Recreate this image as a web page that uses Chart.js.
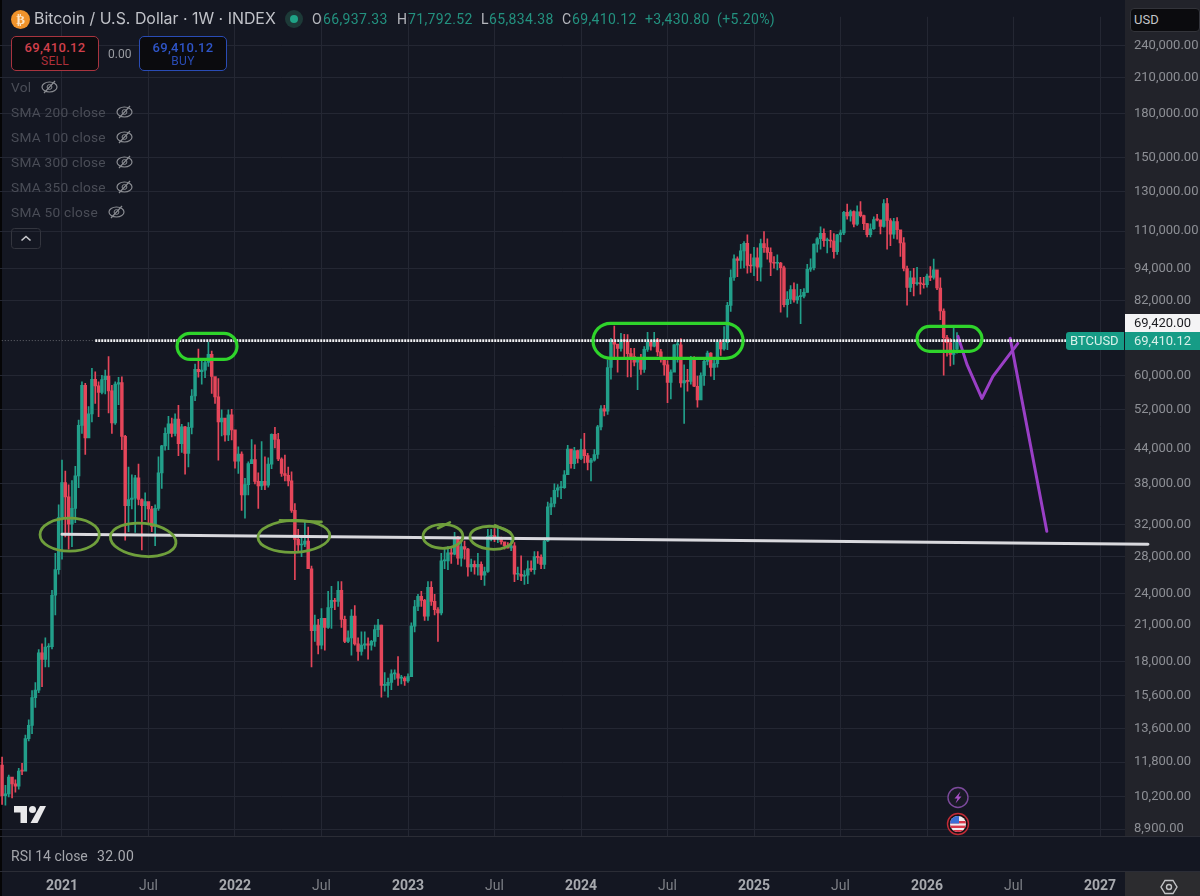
<!DOCTYPE html>
<html>
<head>
<meta charset="utf-8">
<title>Bitcoin / U.S. Dollar</title>
<script src="https://cdn.jsdelivr.net/npm/chart.js@4"></script>
<style>
  html, body { margin: 0; padding: 0; background: #141722; }
  #wrap { position: relative; width: 1200px; height: 896px; overflow: hidden; font-family: Inter, sans-serif; }
  #wrap canvas { position: absolute; left: 0; top: 0; filter: blur(.35px); }
  .t { position: absolute; white-space: nowrap; line-height: 1; }
  .ohlc { font-family: Roboto, sans-serif; font-size: 14px; top: 12px; color: #23917f; letter-spacing: .35px; }
  .ohlc.k { color: #b6b8be; }
  .box { position: absolute; top: 36px; width: 86px; height: 33px; border-radius: 5px; background: #0b0b0e; border: 1px solid; text-align: center; font-family: Roboto, sans-serif; }
  .box b { display: block; font-size: 13px; font-weight: 500; margin-top: 3px; letter-spacing: .3px; }
  .box span { display: block; font-size: 12px; margin-top: 0; line-height: 13px; letter-spacing: .3px; }
  .ind { font-family: Roboto, sans-serif; font-size: 13.7px; color: #4a4d57; left: 11px; letter-spacing: .25px; }
  .eye { position: absolute; width: 17px; height: 14px; }
</style>
</head>
<body>
<div id="wrap">
  <canvas id="priceChart" width="1200" height="896"></canvas>

  <svg style="position:absolute;left:11px;top:10px" width="19" height="19"><circle cx="9.5" cy="9.5" r="9.5" fill="#f0932b"/><text x="9.5" y="14" text-anchor="middle" font-size="13" font-weight="700" fill="#fbe3c4" font-family="DejaVu Sans">₿</text></svg>
  <div class="t" style="left:34px;top:11px;font-size:15.9px;color:#c0c2c8">Bitcoin / U.S. Dollar · 1W · INDEX</div>
  <svg style="position:absolute;left:285px;top:10px" width="18" height="18"><circle cx="9" cy="9" r="9" fill="#1d3a38"/><circle cx="9" cy="9" r="4" fill="#1fa386"/></svg>
  <div class="t ohlc k" style="left:312px">O</div><div class="t ohlc" style="left:323px">66,937.33</div>
  <div class="t ohlc k" style="left:397px">H</div><div class="t ohlc" style="left:408px">71,792.52</div>
  <div class="t ohlc k" style="left:481px">L</div><div class="t ohlc" style="left:489px">65,834.38</div>
  <div class="t ohlc k" style="left:562px">C</div><div class="t ohlc" style="left:572px">69,410.12</div>
  <div class="t ohlc" style="left:645px">+3,430.80</div>
  <div class="t ohlc" style="left:717px">(+5.20%)</div>

  <div class="box" style="left:11px;border-color:#a8343f"><b style="color:#d0404c">69,410.12</b><span style="color:#ad303b">SELL</span></div>
  <div class="t" style="left:108px;top:48px;font-size:12px;color:#9a9ca2;font-family:Roboto,sans-serif">0.00</div>
  <div class="box" style="left:139px;border-color:#2a4cb5"><b style="color:#2f55c8">69,410.12</b><span style="color:#2a4cb5">BUY</span></div>

  <div class="t ind" style="top:81px">Vol</div>
  <div class="t ind" style="top:106px">SMA 200 close</div>
  <div class="t ind" style="top:131px">SMA 100 close</div>
  <div class="t ind" style="top:156px">SMA 300 close</div>
  <div class="t ind" style="top:181px">SMA 350 close</div>
  <div class="t ind" style="top:206px">SMA 50 close</div>
  <svg class="eye" style="left:41px;top:80px" viewBox="0 0 17 14"><ellipse cx="8.5" cy="7" rx="7.5" ry="5" fill="none" stroke="#8a8c92" stroke-width="1.2"/><circle cx="8.5" cy="7" r="2.4" fill="none" stroke="#8a8c92"/><path d="M3 13L14 1" stroke="#8a8c92" stroke-width="1.2"/></svg>
  <svg class="eye" style="left:116px;top:105px" viewBox="0 0 17 14"><ellipse cx="8.5" cy="7" rx="7.5" ry="5" fill="none" stroke="#8a8c92" stroke-width="1.2"/><circle cx="8.5" cy="7" r="2.4" fill="none" stroke="#8a8c92"/><path d="M3 13L14 1" stroke="#8a8c92" stroke-width="1.2"/></svg>
  <svg class="eye" style="left:116px;top:130px" viewBox="0 0 17 14"><ellipse cx="8.5" cy="7" rx="7.5" ry="5" fill="none" stroke="#8a8c92" stroke-width="1.2"/><circle cx="8.5" cy="7" r="2.4" fill="none" stroke="#8a8c92"/><path d="M3 13L14 1" stroke="#8a8c92" stroke-width="1.2"/></svg>
  <svg class="eye" style="left:116px;top:155px" viewBox="0 0 17 14"><ellipse cx="8.5" cy="7" rx="7.5" ry="5" fill="none" stroke="#8a8c92" stroke-width="1.2"/><circle cx="8.5" cy="7" r="2.4" fill="none" stroke="#8a8c92"/><path d="M3 13L14 1" stroke="#8a8c92" stroke-width="1.2"/></svg>
  <svg class="eye" style="left:116px;top:180px" viewBox="0 0 17 14"><ellipse cx="8.5" cy="7" rx="7.5" ry="5" fill="none" stroke="#8a8c92" stroke-width="1.2"/><circle cx="8.5" cy="7" r="2.4" fill="none" stroke="#8a8c92"/><path d="M3 13L14 1" stroke="#8a8c92" stroke-width="1.2"/></svg>
  <svg class="eye" style="left:108px;top:205px" viewBox="0 0 17 14"><ellipse cx="8.5" cy="7" rx="7.5" ry="5" fill="none" stroke="#8a8c92" stroke-width="1.2"/><circle cx="8.5" cy="7" r="2.4" fill="none" stroke="#8a8c92"/><path d="M3 13L14 1" stroke="#8a8c92" stroke-width="1.2"/></svg>
  <svg style="position:absolute;left:11px;top:228px" width="30" height="21"><rect x=".5" y=".5" width="29" height="20" rx="3" fill="none" stroke="#33353e"/><path d="M10.5 12.5L15 8.5L19.5 12.5" fill="none" stroke="#c9cace" stroke-width="1.6"/></svg>

  <div class="t" style="left:1130px;top:8px;width:70px;height:24px;background:#0b0b0e;border:1px solid #33343a;border-radius:4px;box-sizing:border-box;color:#c4c5c9;font:13px/22px Roboto,sans-serif;padding-left:3px">USD</div>

  <svg style="position:absolute;left:14px;top:806px" width="32" height="18" viewBox="0 0 32 18"><path d="M0 0H13V17H6.5V6.5H0Z M26 0H32L23.5 17H16.5Z" fill="#e8e8ea"/><circle cx="18.5" cy="3.5" r="3.5" fill="#e8e8ea"/></svg>

  <svg style="position:absolute;left:946px;top:786px" width="24" height="24"><circle cx="12" cy="11.5" r="10" fill="#191a26" stroke="#7c4a9c" stroke-width="1.4"/><path d="M14.5 5.5L8.5 12.5H11.5L9.5 17.5L15.5 10.5H12.5Z" fill="#a94fc8"/></svg>
  <svg style="position:absolute;left:946px;top:812px" width="24" height="24"><defs><clipPath id="flagClip"><circle cx="12" cy="12" r="8"/></clipPath></defs><circle cx="12" cy="12" r="10.5" fill="#1a1116" stroke="#c22b36" stroke-width="1.4"/><g clip-path="url(#flagClip)"><rect x="4" y="4" width="16" height="16" fill="#f2ecec"/><rect x="4" y="9" width="16" height="2.4" fill="#d9384a"/><rect x="4" y="13.6" width="16" height="2.4" fill="#d9384a"/><rect x="4" y="18" width="16" height="2.4" fill="#d9384a"/><rect x="4" y="4" width="9" height="7.5" fill="#3b6fd6"/></g></svg>

  <div style="position:absolute;left:0;top:836px;width:1200px;height:36px;box-sizing:border-box;border-top:1px solid #2b2d36;border-bottom:1px solid #2b2d36"></div>
  <div class="t" style="left:11px;top:848px;font:14px Roboto,sans-serif;color:#a3a5ab">RSI 14 close</div>
  <div class="t" style="left:97px;top:848px;font:14px Roboto,sans-serif;color:#a9abb0;letter-spacing:.4px">32.00</div>

  <svg style="position:absolute;left:1160px;top:878px" width="18" height="18"><path d="M5 2.5H13L17 9L13 15.5H5L1 9Z" fill="none" stroke="#c2c3c6" stroke-width="1.4"/><circle cx="9" cy="9" r="2.5" fill="none" stroke="#c2c3c6" stroke-width="1.4"/></svg>
</div>

<script>
  // Weekly candles, first week is Aug 31 2020, last is Mar 2 2026. Open = previous close.
  const firstOpen = 11650;
  const lastOpen = 66937.33;

  const weekClose = [
    // 2020
    10250,10330,11080,10770,10670,11370,11360,13030,13770,15480,15970,18680,18180,19150,19170,23800,26500,33000,
    // 2021
    38200,36000,32100,34300,39300,48600,57500,46100,51000,59000,57400,55800,58900,59800,56200,49100,57800,58200,46400,34700,35600,35800,39000,35600,34700,35300,34200,31800,34300,39800,44600,47000,48900,47000,49900,45000,48300,43200,48200,55000,61500,60900,61300,63300,65500,59700,54800,49300,50100,46700,50800,47700,
    // 2022
    41800,43100,36300,37900,41400,42100,38400,37700,38400,37800,41300,46800,45800,42200,39700,39400,38500,34000,30100,29400,29500,29900,26600,20500,21000,19300,21600,20800,22600,23300,23200,24300,21500,19600,19900,21800,19400,18800,19300,19400,19300,19600,20600,21000,16300,16300,16500,17100,17100,16800,16800,16600,
    // 2023
    16900,20900,22700,23700,23300,21800,24600,23200,22400,22100,27500,27500,28450,28300,30300,27800,29200,28900,26800,27100,26800,27100,25900,26300,30500,30600,30300,30300,29800,29300,29050,29300,26000,26000,25800,25900,26600,26500,28000,27900,27100,29900,34500,35000,37000,37400,37400,39500,44000,41400,43700,42300,
    // 2024
    43900,42800,41600,42000,43000,48300,52100,51600,62000,68900,68400,67200,69600,69300,65700,64900,63400,64000,61500,66900,69000,67800,69600,66200,64300,62700,58200,60800,68200,68200,58100,58700,58500,64200,57300,54100,59900,63600,65900,62000,63000,69000,67000,68800,80500,90500,97900,97200,101200,104500,95200,95000,
    // 2025
    98300,94500,104400,102600,100600,96500,96100,96200,94300,80700,82600,86000,82400,83500,83700,85000,93700,94300,104100,106500,109000,105700,105700,105500,100900,108300,109200,119000,117300,119400,113300,119300,117400,113500,108300,111100,115400,115300,112200,123500,115000,108600,114500,110600,104700,94000,86800,90400,88200,88200,88100,87800,
    // 2026
    91000,90500,93500,86600,78600,70300,68800,65500,65979,69410.12
  ];

  const weekHigh = [
    12050,10700,11180,10950,10950,11500,11740,13220,14100,15950,16480,18950,19400,19900,19420,24300,28400,34800,
    42000,40100,37850,38550,40900,49700,58350,58000,52600,61800,60900,58400,60000,61300,64900,57500,58400,59500,59600,46600,40800,39500,39400,41300,35700,36600,35100,34600,34800,42600,44700,48100,50500,50100,51000,52900,48800,48400,49200,56500,62900,67000,63700,64300,69000,66400,59500,59200,51900,50000,51900,52000,
    47500,44400,43500,38900,41700,45800,44800,39800,45400,42600,42400,46900,48200,47000,42400,42900,40800,40000,35000,31400,30500,32400,31700,26900,21900,21500,22500,21500,24200,24700,23500,25200,25200,21800,20500,22400,22800,19900,20400,20400,19900,19700,21000,21500,21000,17200,16800,17400,17400,18400,17000,16900,
    17100,21200,23300,23900,24200,23400,25200,25200,23900,22600,28400,29000,29200,29000,31000,30500,30000,29900,29000,27700,27500,28400,27400,26800,31400,31400,31500,31800,30400,29700,29700,30200,29700,26800,28100,26400,27500,27500,28600,28600,28200,30300,35200,35900,38000,37900,38400,40200,44700,43400,44300,43800,
    45900,47000,43200,42300,43900,48600,52800,52900,64000,70100,73800,68100,71600,71300,71200,67200,67200,64700,65500,67700,71900,69500,71900,70100,66900,63300,63800,61400,68300,69400,70000,62700,61500,65000,64900,59800,60600,64100,66400,66000,64400,69400,69500,73600,81500,93500,99500,98700,104000,105200,108300,99900,
    102700,102500,106400,109800,106500,102500,98800,99500,96500,95000,85300,87500,88500,88000,86100,86400,95700,97900,104300,107000,112000,111000,106800,110400,108800,108500,110500,119500,123200,120200,119800,122300,124500,117600,113500,113400,116800,118000,113400,125600,126200,115900,116000,116400,107500,107000,95000,93000,94100,94500,90600,90600,
    91800,94800,97800,91000,90400,79300,71000,70000,73700,71792.52
  ];

  const weekLow = [
    9880,9850,10200,10150,10400,10530,11200,11400,12900,13300,14850,15800,16200,17600,17600,19000,21900,26000,
    27700,30400,28900,29200,32300,37400,47000,43000,46300,49300,53300,50400,55500,55500,51200,47000,48800,53000,43900,30000,31100,34200,31000,34800,28800,32700,32100,31100,29300,34000,37300,43800,43900,46300,46500,42800,43400,39600,40800,46900,53900,59500,57800,59400,62300,55600,53300,42000,46500,45500,45600,45700,
    40600,39700,34000,32900,36300,41600,38000,34300,37100,37100,37500,40500,44200,41900,39200,38500,37700,33700,25400,28700,28000,29200,26600,17600,19600,18600,19000,18900,20700,20700,22400,22700,20800,19500,19500,18500,19300,18100,18500,19000,18200,18900,19200,20000,15500,15900,15500,16000,16700,16300,16400,16300,
    16500,17300,20400,22300,22700,21400,21400,22800,21900,19600,21900,26600,26500,27200,28200,27100,26900,27700,25800,26300,26000,25900,25400,24800,26200,29900,29800,29700,29500,28900,29000,28700,25200,25400,25300,24900,25000,26300,26000,27200,26600,26600,29800,33400,34500,36000,35700,37300,39500,40600,40500,41500,
    42100,41500,40300,38500,41800,42300,47700,50600,50900,59000,64500,60800,66400,64500,59600,59600,62400,56500,60200,60700,66300,66700,67600,65100,63400,60000,53500,54300,62400,63400,57100,49000,56100,57800,57200,52500,54600,57500,62700,59800,58900,62100,65200,66700,66800,78500,89400,90800,94000,94200,92200,92500,
    91200,89300,89100,100600,97800,91200,94100,93400,78200,80000,76600,81100,81600,81200,74500,83100,85100,92800,93400,100700,102000,103100,100400,102700,98200,99700,105100,108300,115700,114700,111900,112700,116800,110700,107300,107300,110800,114800,108700,111800,102000,103500,106700,106300,98900,93000,80600,85300,83800,87600,84400,86500,
    86900,89300,89900,86000,75800,60000,65000,62400,62800,65834.38
  ];

  // Axis ticks
  const priceTicks = [240000,210000,180000,150000,130000,110000,94000,82000,60000,52000,44000,38000,32000,28000,24000,21000,18000,15600,13600,11800,10200,8900];
  const timeTickWeeks = [18,44,70,96,122,148,174,200,226,252,278,304,330];
  const timeTickLabels = ["2021","Jul","2022","Jul","2023","Jul","2024","Jul","2025","Jul","2026","Jul","2027"];

  const lastPrice = 69410.12;
  const cursorPrice = 69420;

  // Hand drawn lines on top of the chart, [week, price]
  const resistanceLine = [[28,69420],[319.8,69420]];
  const resistanceStub = [[-1,69420],[28,69420]];
  const supportLine = [[18,30760],[344.4,29500]];
  const purpleForecast = [[287.3,70660],[290,62820],[294.5,54450],[297.8,59730],[305.3,68600]];
  const purpleDrop = [[303,70070],[314,31150]];
  const oliveTails = [
    [[83.5,32600],[96,32400]],
    [[131,31540],[134.6,32340]],
    [[148.1,31940],[152.7,31010]]
  ];

  // [weekFrom, weekTo, priceTop, priceBottom]
  const greenPills = [
    [52.6,70.6,71570,64160],
    [177.6,222.7,74640,64440],
    [275,294.5,73700,66360]
  ];
  // [weekCentre, weekRadius, priceTop, priceBottom, tilt in degrees]
  const oliveRings = [
    [20.3,8.9,32900,28640,0],
    [42.4,9.9,32200,28040,6],
    [87.7,10.8,32600,28510,-2],
    [132.5,6,32070,28990,0],
    [147.1,6.5,31800,28880,4]
  ];

  const upColor = "#229f8a";
  const downColor = "#e5465a";

  const weekOpen = weekClose.map((c, i) => {
    if (i === 0) return firstOpen;
    if (i === weekClose.length - 1) return lastOpen;
    return weekClose[i - 1];
  });
  const candleColors = weekClose.map((c, i) => (c >= weekOpen[i] ? upColor : downColor));

  function toPoints(list) {
    return list.map((p) => ({ x: p[0], y: p[1] }));
  }

  function handLine(points, color, width, dash) {
    return {
      type: "line",
      data: toPoints(points),
      borderColor: color,
      borderWidth: width,
      borderDash: dash || [],
      borderCapStyle: dash ? "butt" : "round",
      borderJoinStyle: "round",
      pointRadius: 0,
      tension: 0,
      clip: false,
      order: 1,
    };
  }

  // Panels behind the chart, rings and price tags on top of it
  const chartDecor = {
    id: "chartDecor",
    beforeDraw(chart) {
      const { ctx, chartArea } = chart;
      ctx.save();
      ctx.fillStyle = "#141722";
      ctx.fillRect(0, 0, chart.width, chart.height);
      ctx.fillStyle = "#22232a";
      ctx.fillRect(chartArea.right, 0, chart.width - chartArea.right, 836);
      ctx.fillStyle = "#2c2c2f";
      ctx.fillRect(chartArea.right, 872, chart.width - chartArea.right, chart.height - 872);
      ctx.fillStyle = "#050506";
      ctx.fillRect(0, 0, 2, chart.height);
      ctx.restore();
    },
    afterDatasetsDraw(chart) {
      const { ctx, scales } = chart;
      const xs = scales.x;
      const ys = scales.y;
      ctx.save();

      ctx.strokeStyle = "#6f9f3c";
      ctx.lineWidth = 2.8;
      oliveRings.forEach((r) => {
        const cx = xs.getPixelForValue(r[0]);
        const rx = xs.getPixelForValue(r[0] + r[1]) - cx;
        const top = ys.getPixelForValue(r[2]);
        const bottom = ys.getPixelForValue(r[3]);
        ctx.beginPath();
        ctx.ellipse(cx, (top + bottom) / 2, rx, (bottom - top) / 2, (r[4] * Math.PI) / 180, 0, Math.PI * 2);
        ctx.stroke();
      });

      ctx.strokeStyle = "#2fd42b";
      ctx.lineWidth = 3.2;
      greenPills.forEach((p) => {
        const left = xs.getPixelForValue(p[0]);
        const right = xs.getPixelForValue(p[1]);
        const top = ys.getPixelForValue(p[2]);
        const bottom = ys.getPixelForValue(p[3]);
        ctx.beginPath();
        ctx.roundRect(left, top, right - left, bottom - top, (bottom - top) / 2);
        ctx.stroke();
      });
      ctx.restore();
    },
    afterDraw(chart) {
      const { ctx, chartArea, scales } = chart;
      const y = Math.round(scales.y.getPixelForValue(lastPrice));
      ctx.save();
      ctx.font = "13px Roboto, sans-serif";
      ctx.textBaseline = "middle";

      ctx.fillStyle = "#f4f4f5";
      ctx.fillRect(chartArea.right, y - 27, 75, 18);
      ctx.fillStyle = "#1b1c20";
      ctx.fillText(cursorPrice.toLocaleString("en-US", { minimumFractionDigits: 2 }), 1134, y - 17.5);

      ctx.fillStyle = "#169c86";
      ctx.fillRect(chartArea.right, y - 9, 75, 18);
      ctx.beginPath();
      ctx.roundRect(1066, y - 9, 58, 18, [3, 0, 0, 3]);
      ctx.fill();
      ctx.fillStyle = "#d8f0ea";
      ctx.fillText(lastPrice.toLocaleString("en-US", { minimumFractionDigits: 2 }), 1134, y + 0.5);
      ctx.fillText("BTCUSD", 1070, y + 0.5);
      ctx.restore();
    },
  };

  new Chart(document.getElementById("priceChart"), {
    type: "bar",
    data: {
      datasets: [
        {
          data: weekClose.map((c, i) => ({ x: i, y: [weekLow[i], weekHigh[i]] })),
          backgroundColor: candleColors,
          barThickness: 1,
          grouped: false,
          order: 3,
        },
        {
          data: weekClose.map((c, i) => ({ x: i, y: [Math.min(c, weekOpen[i]), Math.max(c, weekOpen[i])] })),
          backgroundColor: candleColors,
          barThickness: 2.8,
          minBarLength: 1,
          grouped: false,
          order: 2,
        },
        handLine(resistanceStub, "rgba(255,255,255,.35)", 1, [1, 2]),
        handLine(resistanceLine, "#f2f2f4", 2.6, [2, 1]),
        handLine(supportLine, "#d9d9de", 3),
        handLine(purpleForecast, "#9a3fc6", 3),
        handLine(purpleDrop, "#9a3fc6", 3),
        handLine(oliveTails[0], "#6f9f3c", 2.6),
        handLine(oliveTails[1], "#6f9f3c", 2.6),
        handLine(oliveTails[2], "#6f9f3c", 2.6),
      ],
    },
    options: {
      responsive: false,
      animation: false,
      events: [],
      layout: { padding: { top: 10 } },
      plugins: { legend: { display: false }, tooltip: { enabled: false } },
      scales: {
        x: {
          type: "linear",
          offset: false,
          min: -0.63,
          max: 337.5,
          afterFit(scale) {
            scale.height = 60;
          },
          afterBuildTicks(scale) {
            scale.ticks = timeTickWeeks.map((v) => ({ value: v }));
          },
          grid: { color: "#242733", offset: false, drawTicks: false },
          border: { display: false },
          ticks: {
            autoSkip: false,
            maxRotation: 0,
            padding: 42,
            callback: (v, i) => timeTickLabels[i],
            color: (ctx) => (ctx.index % 2 === 0 ? "#a7a9ae" : "#7d7f86"),
            font: (ctx) => ({ family: "Roboto, sans-serif", size: 14, weight: ctx.index % 2 === 0 ? "700" : "400" }),
          },
        },
        y: {
          type: "logarithmic",
          position: "right",
          min: 8651,
          max: 270760,
          afterFit(scale) {
            scale.width = 75;
          },
          afterBuildTicks(scale) {
            scale.ticks = priceTicks.map((v) => ({ value: v }));
          },
          grid: { color: "#242733", drawTicks: false },
          border: { display: false },
          ticks: {
            autoSkip: false,
            padding: 9,
            color: "#8d8f95",
            font: { family: "Roboto, sans-serif", size: 13 },
            callback: (v) => Number(v).toLocaleString("en-US", { minimumFractionDigits: 2 }),
          },
        },
      },
    },
    plugins: [chartDecor],
  });
</script>
</body>
</html>
